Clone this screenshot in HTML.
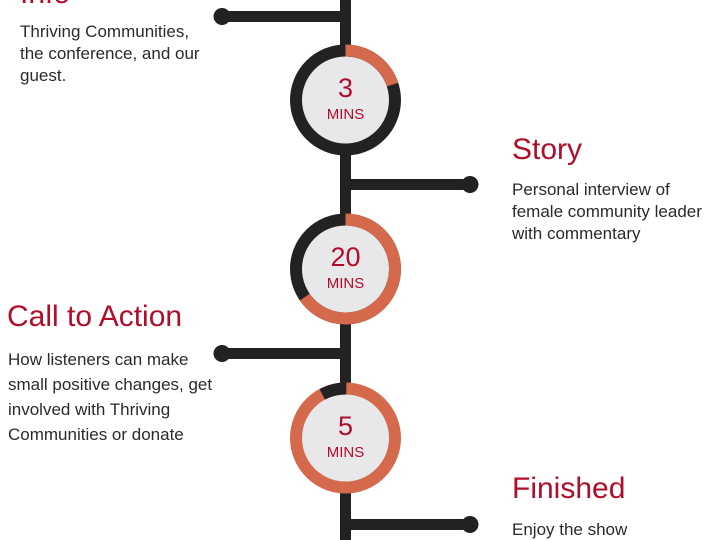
<!DOCTYPE html>
<html><head><meta charset="utf-8"><style>
body{margin:0;background:#fff;}
svg{display:block;}
.t{font-family:"Liberation Sans",sans-serif;fill:#b10d2a;font-size:30px;}
.b{font-family:"Liberation Sans",sans-serif;fill:#2a2a2a;font-size:17px;}
.n{font-family:"Liberation Sans",sans-serif;fill:#b10d2a;text-anchor:middle;}
</style></head><body>
<svg width="720" height="540" viewBox="0 0 720 540" xmlns="http://www.w3.org/2000/svg">
<rect x="340" y="0" width="11" height="540" fill="#222"/>
<rect x="222" y="11" width="123" height="11" fill="#222"/><circle cx="222" cy="16.5" r="8.5" fill="#222"/>
<rect x="345" y="179" width="125" height="11" fill="#222"/><circle cx="470" cy="184.5" r="8.5" fill="#222"/>
<rect x="222" y="348" width="123" height="11" fill="#222"/><circle cx="222" cy="353.5" r="8.5" fill="#222"/>
<rect x="345" y="519" width="125" height="11" fill="#222"/><circle cx="470" cy="524.5" r="8.5" fill="#222"/>

<g transform="translate(345.5,100)">
<circle r="55" fill="#e8e8ea"/>
<circle r="49.5" fill="none" stroke="#222" stroke-width="12"/>
<circle r="49.5" fill="none" stroke="#d4694c" stroke-width="12" stroke-dasharray="62 400" transform="rotate(-90)"/>
<text class="n" y="-3" font-size="27">3</text><text class="n" y="19" font-size="15">MINS</text>
</g>
<g transform="translate(345.5,269)">
<circle r="55" fill="#e8e8ea"/>
<circle r="49.5" fill="none" stroke="#222" stroke-width="12"/>
<circle r="49.5" fill="none" stroke="#d4694c" stroke-width="12" stroke-dasharray="203 400" transform="rotate(-90)"/>
<text class="n" y="-3" font-size="27">20</text><text class="n" y="19" font-size="15">MINS</text>
</g>
<g transform="translate(345.5,438)">
<circle r="55" fill="#e8e8ea"/>
<circle r="49.5" fill="none" stroke="#d4694c" stroke-width="12"/>
<circle r="49.5" fill="none" stroke="#222" stroke-width="12" stroke-dasharray="25 400" transform="rotate(-118)"/>
<text class="n" y="-3" font-size="27">5</text><text class="n" y="19" font-size="15">MINS</text>
</g>

<text class="t" x="20" y="3">Info</text>
<text class="b" x="20" y="37">Thriving Communities,</text>
<text class="b" x="20" y="59">the conference, and our</text>
<text class="b" x="20" y="81">guest.</text>

<text class="t" x="512" y="159">Story</text>
<text class="b" x="512" y="195">Personal interview of</text>
<text class="b" x="512" y="217">female community leader</text>
<text class="b" x="512" y="239">with commentary</text>

<text class="t" x="7" y="326">Call to Action</text>
<text class="b" x="8" y="365">How listeners can make</text>
<text class="b" x="8" y="390">small positive changes, get</text>
<text class="b" x="8" y="415">involved with Thriving</text>
<text class="b" x="8" y="440">Communities or donate</text>

<text class="t" x="512" y="498">Finished</text>
<text class="b" x="512" y="535">Enjoy the show</text>
</svg>
</body></html>
